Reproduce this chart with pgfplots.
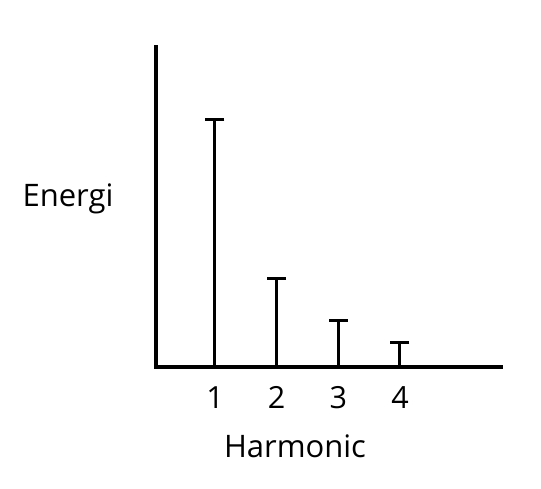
\documentclass[border=0pt]{standalone}
\usepackage{pgfplots}
\pgfplotsset{compat=1.18}
\usepackage{fontspec}
\setmainfont{Open Sans}
\begin{document}
\begin{tikzpicture}[x=1pt,y=1pt]
\path[use as bounding box] (0,0) rectangle (541,488);
\begin{axis}[
  at={(156pt,121pt)}, anchor=south west,
  scale only axis, width=345pt, height=320pt,
  xmin=0.0433, xmax=5.638, ymin=0, ymax=318,
  axis x line=bottom, axis y line=left,
  axis line style={-, line width=4pt, line cap=rect},
  xtick={1,2,3,4}, xticklabels={1,2,3,4},
  ytick=\empty,
  major tick length=0pt,
  x tick label style={font=\fontsize{30.5}{36}\selectfont, anchor=base, yshift=-41pt},
  clip=false,
]
\addplot[ycomb, black, line width=3pt, mark=-, mark size=9.5pt,
  mark options={line width=3pt}] coordinates {(1,246) (2,88) (3,46) (4,24)};
\end{axis}
\node[anchor=base, font=\fontsize{31}{36}\selectfont] at (68,281) {Energi};
\node[anchor=base, font=\fontsize{31}{36}\selectfont] at (295,31) {Harmonic};
\end{tikzpicture}
\end{document}
